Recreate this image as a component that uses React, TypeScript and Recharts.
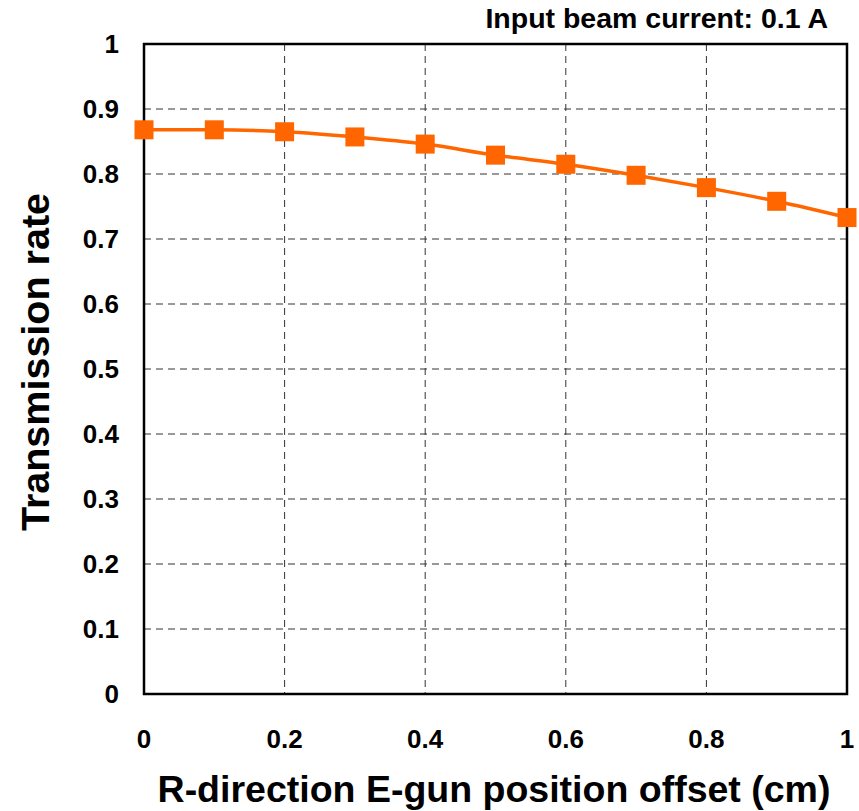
import { LineChart, Line, XAxis, YAxis, CartesianGrid, ReferenceArea } from "recharts";

// R-direction offset (cm) vs transmission rate, 0.1 A input beam
const offsets = [0, 0.1, 0.2, 0.3, 0.4, 0.5, 0.6, 0.7, 0.8, 0.9, 1];
const transmission = [0.868, 0.868, 0.865, 0.857, 0.846, 0.829, 0.815, 0.798, 0.779, 0.758, 0.733];
const xTicks = [0, 0.2, 0.4, 0.6, 0.8, 1];
const yTicks = [0, 0.1, 0.2, 0.3, 0.4, 0.5, 0.6, 0.7, 0.8, 0.9, 1];

const data = offsets.map((x, i) => ({ x, rate: transmission[i] }));

const FONT = "'Liberation Sans', Arial, sans-serif";
const ORANGE = "#FF6600";

const SquareDot = (props: any) => {
  const { cx, cy } = props;
  if (cx == null || cy == null) return null;
  return <rect x={cx - 9.5} y={cy - 9.5} width={19} height={19} fill={ORANGE} />;
};

export default function App() {
  return (
    <div style={{ position: "absolute", left: 0, top: 0, background: "#fff" }}>
      <LineChart
        width={859}
        height={811}
        data={data}
        margin={{ top: 44, right: 12, left: 0, bottom: 0 }}
        style={{ fontFamily: FONT }}
      >
        <CartesianGrid stroke="#333" strokeDasharray="7 5" strokeWidth={1} />
        <XAxis
          dataKey="x"
          type="number"
          domain={[0, 1]}
          ticks={xTicks}
          height={117}
          axisLine={false}
          tickLine={false}
          tickSize={0}
          tickMargin={36}
          tick={{ fill: "#000", fontSize: 26, fontWeight: 700 }}
        />
        <YAxis
          type="number"
          domain={[0, 1]}
          ticks={yTicks}
          width={144}
          axisLine={false}
          tickLine={false}
          tickSize={0}
          tickMargin={25}
          tick={{ fill: "#000", fontSize: 26, fontWeight: 700 }}
        />
        <ReferenceArea x1={0} x2={1} y1={0} y2={1} fill="none" stroke="#000" strokeWidth={2.5} fillOpacity={0} />
        <Line
          dataKey="rate"
          type="monotone"
          stroke={ORANGE}
          strokeWidth={3.5}
          dot={<SquareDot />}
          activeDot={false}
          isAnimationActive={false}
        />
        <text x={828} y={28} textAnchor="end" fontSize={28.5} fontWeight={700} fill="#000">
          Input beam current: 0.1 A
        </text>
        <text x={494} y={802} textAnchor="middle" fontSize={37.5} fontWeight={700} fill="#000">
          R-direction E-gun position offset (cm)
        </text>
        <text
          x={49}
          y={362}
          textAnchor="middle"
          fontSize={39.5}
          fontWeight={700}
          fill="#000"
          transform="rotate(-90 49 362)"
        >
          Transmission rate
        </text>
      </LineChart>
    </div>
  );
}
